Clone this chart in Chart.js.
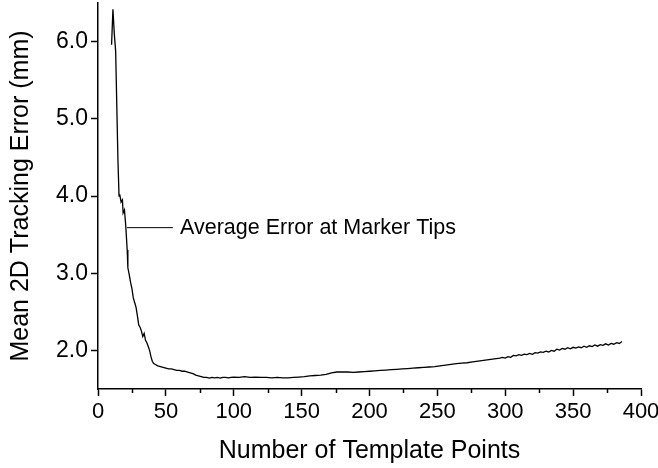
<!DOCTYPE html>
<html>
<head>
<meta charset="utf-8">
<script src="https://cdn.jsdelivr.net/npm/chart.js@4/dist/chart.umd.min.js"></script>
<style>
  html, body { margin: 0; padding: 0; background: #fff; }
  #wrap { width: 658px; height: 468px; }
</style>
</head>
<body>
<div id="wrap"><canvas id="c" width="658" height="468"></canvas></div>
<script>
// ---- data ----
const templatePoints = [10,11,12,13,14.7,15.5,16,17,18,18.5,19.5,20.5,21.5,22,23,24,25,26,27,28,29,30,31,32,33,34,35,36,37,38,39,40,41,42,44,46,48,50,52,54,56,58,60,62,64,66,68,70,72,74,76,78,80,82,84,86,88,90,92,94,96,98,100,104,108,112,116,120,124,128,132,136,140,144,148,152,156,160,164,168,172,176,180,184,188,192,196,200,204,208,212,216,220,224,228,232,236,240,244,248,252,256,260,264,268,272,276,280,284,288,292,296,298,300,302,304,306,308,310,312,314,316,318,320,322,324,326,328,330,332,334,336,338,340,342,344,346,348,350,352,354,356,358,360,362,364,366,368,370,372,374,376,378,380,382,384,386];
const meanError = [5.96,6.42,6.10,5.88,4.46,4.00,4.02,3.92,3.95,3.78,3.82,3.60,3.30,3.07,2.98,2.88,2.80,2.68,2.62,2.56,2.45,2.33,2.30,2.25,2.18,2.22,2.13,2.10,2.05,2.00,1.92,1.86,1.83,1.82,1.80,1.79,1.78,1.77,1.76,1.76,1.75,1.74,1.74,1.73,1.73,1.72,1.71,1.70,1.68,1.67,1.66,1.65,1.65,1.64,1.65,1.645,1.65,1.64,1.65,1.65,1.645,1.65,1.655,1.65,1.66,1.65,1.655,1.65,1.65,1.645,1.65,1.645,1.645,1.65,1.655,1.66,1.67,1.675,1.68,1.69,1.71,1.72,1.72,1.72,1.715,1.72,1.725,1.73,1.735,1.74,1.745,1.75,1.755,1.76,1.765,1.77,1.775,1.78,1.785,1.79,1.80,1.81,1.82,1.83,1.835,1.84,1.85,1.86,1.87,1.88,1.89,1.90,1.91,1.90,1.92,1.91,1.935,1.93,1.945,1.935,1.95,1.945,1.96,1.95,1.97,1.965,1.98,1.975,1.99,1.98,2.00,1.99,2.015,2.005,2.025,2.015,2.035,2.02,2.04,2.03,2.045,2.035,2.055,2.04,2.06,2.05,2.07,2.055,2.075,2.065,2.085,2.07,2.09,2.08,2.10,2.09,2.115];
const yTickValues = [2, 3, 4, 5, 6];
const xMinorTickValues = [25, 75, 125, 175, 225, 275, 325, 375];
const annotationText = "Average Error at Marker Tips";
const annotationLineFrom = { x: 21.4, y: 3.59 };
const annotationLineTo = { x: 55.2, y: 3.59 };
const annotationTextAt = { x: 60.4, y: 3.59 };

const FONT = "'Liberation Sans', Arial, Helvetica, sans-serif";

const extras = {
  id: 'extras',
  afterDraw(chart) {
    const ctx = chart.ctx;
    const xs = chart.scales.x, ys = chart.scales.y;
    ctx.save();
    // minor x ticks
    ctx.strokeStyle = '#000';
    ctx.lineWidth = 1.5;
    const yb = ys.bottom;
    xMinorTickValues.forEach(v => {
      const px = Math.round(xs.getPixelForValue(v)) + 0.5;
      ctx.beginPath();
      ctx.moveTo(px, yb);
      ctx.lineTo(px, yb + 4);
      ctx.stroke();
    });
    // annotation
    ctx.lineWidth = 1;
    const py = ys.getPixelForValue(annotationLineFrom.y);
    ctx.beginPath();
    ctx.moveTo(xs.getPixelForValue(annotationLineFrom.x), py);
    ctx.lineTo(xs.getPixelForValue(annotationLineTo.x), py);
    ctx.stroke();
    ctx.fillStyle = '#000';
    ctx.font = '21.5px ' + FONT;
    ctx.textBaseline = 'middle';
    ctx.textAlign = 'left';
    ctx.fillText(annotationText, xs.getPixelForValue(annotationTextAt.x), ys.getPixelForValue(annotationTextAt.y));
    ctx.restore();
  }
};

new Chart(document.getElementById('c'), {
  type: 'line',
  data: {
    datasets: [{
      data: templatePoints.map((x, i) => ({ x: x, y: meanError[i] })),
      borderColor: '#000',
      borderWidth: 1.3,
      pointRadius: 0,
      tension: 0,
      fill: false
    }]
  },
  options: {
    responsive: false,
    animation: false,
    events: [],
    layout: { padding: { top: 3, right: 17, left: 0, bottom: 0 } },
    plugins: { legend: { display: false }, tooltip: { enabled: false } },
    scales: {
      x: {
        type: 'linear',
        min: 0, max: 400,
        afterFit(s) { s.height = 79; s.paddingRight = 0; s.paddingLeft = 0; },
        ticks: { stepSize: 50, color: '#000', font: { family: FONT, size: 22 }, padding: 3, maxRotation: 0 },
        grid: { drawOnChartArea: false, drawTicks: true, tickLength: 7, tickColor: '#000', tickWidth: 1.5 },
        border: { display: true, color: '#000', width: 1.5 },
        title: { display: true, text: 'Number of Template Points', color: '#000', font: { family: FONT, size: 25 }, padding: { top: 0, bottom: 2 } }
      },
      y: {
        type: 'linear',
        min: 1.5, max: 6.5,
        afterFit(s) { s.width = 98; s.paddingTop = 0; s.paddingBottom = 0; },
        afterBuildTicks(s) { s.ticks = yTickValues.map(v => ({ value: v })); },
        ticks: { color: '#000', font: { family: FONT, size: 23 }, padding: 3, callback: v => Number(v).toFixed(1) },
        grid: { drawOnChartArea: false, drawTicks: true, tickLength: 7, tickColor: '#000', tickWidth: 1.5 },
        border: { display: true, color: '#000', width: 1.5 },
        title: { display: true, text: 'Mean 2D Tracking Error (mm)', color: '#000', font: { family: FONT, size: 25 }, padding: { top: 6, bottom: 0 } }
      }
    }
  },
  plugins: [extras]
});
</script>
</body>
</html>
